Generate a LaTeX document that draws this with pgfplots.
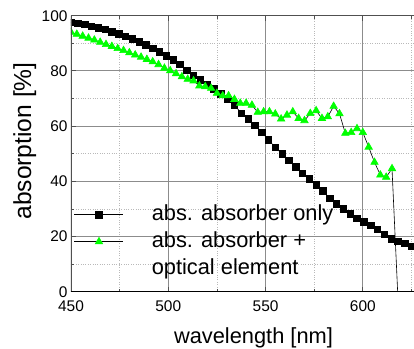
\documentclass[border=0pt]{standalone}
\usepackage{pgfplots}
\pgfplotsset{compat=1.18}
\usepackage{fontspec}
\setmainfont{Liberation Sans}
\definecolor{brightgreen}{RGB}{0,255,0}
\definecolor{majgrid}{RGB}{140,140,140}
\definecolor{mingrid}{RGB}{185,185,185}
\definecolor{axdark}{RGB}{80,80,80}
\begin{document}
\begin{tikzpicture}
\begin{axis}[
  at={(0,0)}, anchor=south west,
  scale only axis, width=343bp, height=276bp,
  xmin=450, xmax=626.3, ymin=0, ymax=100,
  xtick={450,500,550,600}, minor xtick={475,525,575,625},
  ytick={0,20,40,60,80,100}, minor ytick={10,30,50,70,90},
  xtick pos=both, ytick pos=left,
  tick align=inside,
  major tick length=5bp, minor tick length=3bp,
  every tick/.style={axdark, line width=0.8bp},
  grid=both,
  major grid style={majgrid, line width=0.8bp},
  minor grid style={mingrid, dotted, line width=0.8bp},
  axis line style={draw=none},
  /pgf/number format/assume math mode=true,
  /pgf/number format/1000 sep={},
  ticklabel style={font=\fontsize{15.5}{18}\selectfont},
  xticklabel style={yshift=-5bp},
  xlabel={wavelength [nm]},
  ylabel={absorption [\%]},
  xlabel style={at={(axis description cs:0.532,-0.1678)}, anchor=center, font=\fontsize{21.9}{26}\selectfont},
  ylabel style={at={(axis description cs:-0.135,0.546)}, anchor=center, font=\fontsize{24.7}{29}\selectfont},
  clip marker paths=true,
  legend cell align=left,
  legend image code/.code={\draw[mark repeat=2,mark phase=2,#1] plot coordinates {(0bp,0bp) (24.5bp,0bp) (49bp,0bp)};},
  legend style={draw=none, fill=none, at={(rel axis cs:0,0.325)}, anchor=north west,
    font=\fontsize{21.9}{26}\selectfont, column sep=28bp, row sep=6bp,
    nodes={inner sep=0pt, text height=16bp, text depth=5bp}},
]
\addplot[black, line width=0.6bp, mark=square*, mark size=3.2bp, mark options={solid}] coordinates {
(450,97.7) (453.5,97.2) (457,96.8) (460.5,96.2) (464,95.6) (467.5,95.0) (471,94.2) (474.5,93.4)
(478,92.5) (481.5,91.6) (485,90.5) (488.5,89.4) (492,88.2) (495.5,86.9) (499,85.5) (502.5,84.0)
(506,82.3) (509.5,80.2) (513,78.4) (516.5,76.8) (520,75.2) (523.5,73.5) (527,71.7) (530.5,69.7)
(534,67.6) (537.5,64.7) (541,62.6) (544.5,60.2) (548,57.8) (551.5,55.0) (555,52.3) (558.5,49.9)
(562,47.5) (565.5,45.2) (569,43.0) (572.5,40.9) (576,38.7) (579.5,36.5) (583,33.9) (586.5,31.9)
(590,30.0) (593.5,28.2) (597,26.6) (600.5,25.3) (604,24.1) (607.5,22.6) (611,20.9) (614.5,19.2)
(618,18.2) (621.5,17.5) (625,16.4)
};
\addlegendentry{abs. absorber only}
\addplot[black, line width=0.6bp, mark=triangle*, mark size=4.3bp, mark options={solid, draw=brightgreen, fill=brightgreen}] coordinates {
(450,94.0) (453,93.3) (456,92.6) (459,91.9) (462,91.2) (465,90.4) (468,89.6) (471,88.9)
(474,88.1) (477,87.4) (480,86.6) (483,85.8) (486,85.0) (489,84.2) (492,83.3) (495,82.3)
(498,81.0) (501,80.1) (504,79.0) (507,77.9) (510,77.0) (513,76.4) (516,74.6) (519,74.3)
(522,73.7) (525,71.9) (528,71.0) (531,71.0) (534,69.7) (537,68.3) (540,68.3) (543,67.6)
(546,65.0) (549,65.2) (552,65.2) (555,64.4) (558,62.6) (561,64.0) (564,65.2) (567,62.8)
(570,62.0) (573,64.6) (576,65.6) (579,62.8) (582,63.4) (585,67.2) (588,64.5) (591,57.4)
(594,57.7) (597,59.1) (600,57.7) (603,52.4) (606,46.9) (609,42.3) (612,41.5) (615,44.6)
(618,-1.6)
};
\addlegendentry{abs. absorber +}
\addlegendimage{empty legend}
\addlegendentry{optical element}
\draw[axdark, line width=1.6bp] (rel axis cs:0,0) -- (rel axis cs:0,1);
\draw[axdark, line width=1.6bp] (rel axis cs:0,1) -- (rel axis cs:1,1);
\draw[black, line width=1.6bp] (rel axis cs:0,0) -- (rel axis cs:1,0);
\end{axis}
\pgfresetboundingbox
\useasboundingbox (-71bp,-57.3bp) rectangle (343bp,291.7bp);
\end{tikzpicture}
\end{document}
